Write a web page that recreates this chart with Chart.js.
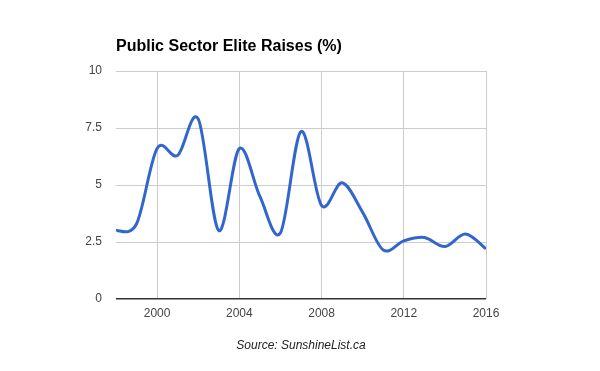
<!DOCTYPE html>
<html>
<head>
<meta charset="utf-8">
<script src="https://cdn.jsdelivr.net/npm/chart.js@4/dist/chart.umd.min.js"></script>
<style>
  html, body { margin: 0; padding: 0; background: #fff; }
  #wrap { width: 600px; height: 371px; position: relative; }
</style>
</head>
<body>
<div id="wrap"><canvas id="chart"></canvas></div>
<script>
  // Public Sector Elite Raises (%)
  const years  = [1998, 1999, 2000, 2001, 2002, 2003, 2004, 2005, 2006, 2007, 2008, 2009, 2010, 2011, 2012, 2013, 2014, 2015, 2016];
  const raises = [3.0, 3.3, 6.6, 6.3, 7.9, 3.0, 6.6, 4.5, 2.9, 7.35, 4.1, 5.1, 3.8, 2.15, 2.55, 2.7, 2.3, 2.85, 2.2];
  const xTicks = [2000, 2004, 2008, 2012, 2016];
  const yTicks = [0, 2.5, 5, 7.5, 10];

  const TITLE = 'Public Sector Elite Raises (%)';
  const SOURCE = 'Source: SunshineList.ca';

  // Uniform Catmull-Rom control points, closer to the Google "function" curve
  // than Chart.js's distance-weighted spline.
  const smoothPlugin = {
    id: 'catmullRom',
    beforeDatasetDraw(chart, args) {
      const line = args.meta.dataset;
      if (!line) return;
      line.updateControlPoints(chart.chartArea, 'x');
      const pts = line.points;
      const k = 1 / 6;
      for (let i = 0; i < pts.length; i++) {
        const p = pts[i];
        const prev = pts[i - 1] || p;
        const next = pts[i + 1] || p;
        const dx = next.x - prev.x;
        const dy = next.y - prev.y;
        p.cp1x = p.x - dx * k; p.cp1y = p.y - dy * k;
        p.cp2x = p.x + dx * k; p.cp2y = p.y + dy * k;
      }
    },
  };

  const textPlugin = {
    id: 'captions',
    afterDraw(chart) {
      const { ctx, chartArea } = chart;
      ctx.save();
      ctx.fillStyle = '#000';
      ctx.font = 'bold 16px Arial, "Liberation Sans", sans-serif';
      ctx.textAlign = 'left';
      ctx.textBaseline = 'alphabetic';
      ctx.fillText(TITLE, chartArea.left, 51);
      ctx.fillStyle = '#222';
      ctx.font = 'italic 12px Arial, "Liberation Sans", sans-serif';
      ctx.textAlign = 'center';
      ctx.fillText(SOURCE, 301, 349);
      ctx.restore();
    },
  };

  new Chart(document.getElementById('chart').getContext('2d'), {
    type: 'line',
    data: {
      datasets: [{
        label: 'Raises',
        data: years.map((y, i) => ({ x: y, y: raises[i] })),
        borderColor: '#3366cc',
        borderWidth: 3,
        tension: 0.4,
        pointRadius: 0,
        fill: false,
      }],
    },
    options: {
      responsive: true, maintainAspectRatio: false, animation: false,
      layout: { padding: { top: 71, right: 114, left: 0, bottom: 0 } },
      plugins: { legend: { display: false }, tooltip: { enabled: false } },
      scales: {
        x: {
          type: 'linear', min: 1998, max: 2016,
          afterBuildTicks: (s) => { s.ticks = xTicks.map((v) => ({ value: v })); },
          afterFit: (s) => { s.height = 72; },
          grid: { color: '#cccccc', drawTicks: false },
          border: { display: false },
          ticks: {
            color: '#444', padding: 7, maxRotation: 0,
            font: { family: 'Arial, "Liberation Sans", sans-serif', size: 12 },
            callback: (v) => String(v),
          },
        },
        y: {
          min: 0, max: 10,
          afterBuildTicks: (s) => { s.ticks = yTicks.map((v) => ({ value: v })); },
          afterFit: (s) => { s.width = 116; },
          grid: {
            color: (c) => (c.tick && c.tick.value === 0 ? '#333333' : '#cccccc'),
            lineWidth: (c) => (c.tick && c.tick.value === 0 ? 1.5 : 1),
            drawTicks: false,
          },
          border: { display: false },
          ticks: {
            color: '#444', padding: 14,
            font: { family: 'Arial, "Liberation Sans", sans-serif', size: 12 },
            callback: (v) => String(v),
          },
        },
      },
    },
    plugins: [smoothPlugin, textPlugin],
  });
</script>
</body>
</html>
